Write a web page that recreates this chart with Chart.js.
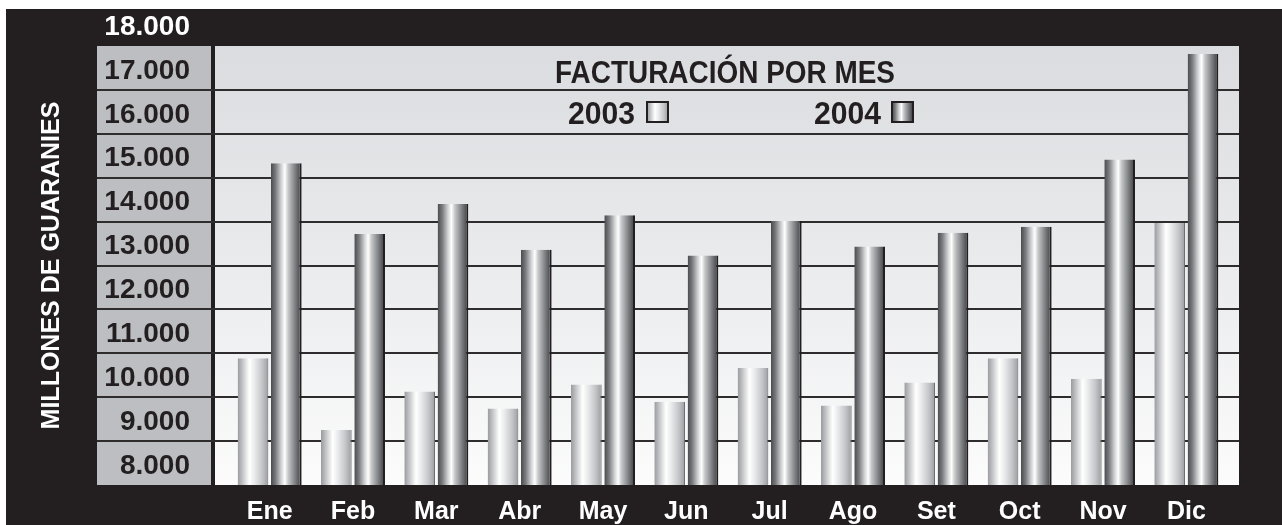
<!DOCTYPE html>
<html>
<head>
<meta charset="utf-8">
<script src="https://cdn.jsdelivr.net/npm/chart.js@4.4.1/dist/chart.umd.min.js"></script>
<style>
html,body{margin:0;padding:0;background:#ffffff;overflow:hidden}
#wrap{width:1282px;height:525px;position:relative}
</style>
</head>
<body>
<div id="wrap"><canvas id="c" width="1282" height="525"></canvas></div>
<script>
// ---------- data ----------
const months = ['Ene','Feb','Mar','Abr','May','Jun','Jul','Ago','Set','Oct','Nov','Dic'];
const sales2003 = [10890, 9255, 10130, 9745, 10290, 9895, 10665, 9810, 10335, 10890, 10420, 13970];
const sales2004 = [15330, 13720, 14400, 13360, 14145, 13225, 14015, 13430, 13745, 13880, 15415, 17820];
const yTickValues = [8000, 9000, 10000, 11000, 12000, 13000, 14000, 15000, 16000, 17000, 18000];
const seriesLabels = ['2003', '2004'];
const chartTitle = 'FACTURACIÓN POR MES';
const yAxisTitle = 'MILLONES DE GUARANIES';

// ---------- styling ----------
const DARK = '#231f20';
const stops2003 = [[0,'#9a9b9e'],[0.12,'#b9babd'],[0.38,'#ffffff'],[0.55,'#e9eaec'],[0.8,'#c4c5c8'],[0.95,'#a6a7aa'],[1,'#808184']];
const stops2004 = [[0,'#4a4b4e'],[0.15,'#7a7b7e'],[0.33,'#cfd0d2'],[0.45,'#ffffff'],[0.56,'#c6c7c9'],[0.75,'#8a8b8e'],[0.9,'#5a5b5e'],[1,'#3c3d40']];

function hasFont(name){
  const c = document.createElement('canvas').getContext('2d');
  const t = 'ABCDEFGHIJKLMmmwwii1234';
  c.font = '40px monospace'; const a = c.measureText(t).width;
  c.font = '40px "' + name + '", monospace'; const b = c.measureText(t).width;
  return Math.abs(a - b) > 0.5;
}
const NARROW = hasFont('Liberation Sans Narrow');
const SANS = '"Liberation Sans", Arial, Helvetica, sans-serif';
const NARROW_FAMILY = NARROW ? '"Liberation Sans Narrow", ' + SANS : SANS;
const xFontSize = NARROW ? 27 : 25;
const yTitleSize = NARROW ? 30 : 25;

function fmt(v){ return Math.floor(v/1000) + '.' + String(v % 1000).padStart(3,'0'); }

function gradientFor(ctx, x0, x1, stops){
  const g = ctx.createLinearGradient(x0, 0, x1, 0);
  stops.forEach(([o,c]) => g.addColorStop(o,c));
  return g;
}

function drawFitted(ctx, text, x, y, font, target, align){
  ctx.save();
  ctx.font = font;
  const w = ctx.measureText(text).width;
  const sx = Math.min(1, target / w);
  ctx.translate(x, y);
  ctx.scale(sx, 1);
  ctx.textAlign = align;
  ctx.textBaseline = 'alphabetic';
  ctx.fillStyle = DARK;
  ctx.fillText(text, 0, 0);
  ctx.restore();
}

// ---------- plugins ----------
const framePlugin = {
  id: 'frame',
  beforeDraw(chart){
    const {ctx, chartArea: a, scales: {y}} = chart;
    ctx.save();
    ctx.fillStyle = '#ffffff';
    ctx.fillRect(0, 0, chart.width, chart.height);
    ctx.fillStyle = DARK;
    ctx.fillRect(6, 9, chart.width - 6, chart.height - 9);
    const top = a.top, bottom = a.bottom;
    // grey label column
    ctx.fillStyle = '#bdbec1';
    ctx.fillRect(97, top, 114, bottom - top);
    // plot background
    const pl = a.left - 13, pr = a.right + 11;
    const g = ctx.createLinearGradient(0, top, 0, bottom);
    g.addColorStop(0, '#dbdcdf');
    g.addColorStop(0.5, '#eaebed');
    g.addColorStop(1, '#fcfcfc');
    ctx.fillStyle = g;
    ctx.fillRect(pl, top, pr - pl, bottom - top);
    // grid lines
    ctx.strokeStyle = '#2f2c2d';
    ctx.lineWidth = 2;
    y.ticks.forEach(t => {
      if (t.value <= y.min || t.value >= y.max) return;
      const py = Math.round(y.getPixelForValue(t.value));
      ctx.beginPath();
      ctx.moveTo(97, py);
      ctx.lineTo(pr, py);
      ctx.stroke();
    });
    ctx.restore();
  }
};

const barShadePlugin = {
  id: 'barShade',
  beforeDatasetsDraw(chart){
    const ctx = chart.ctx;
    chart.data.datasets.forEach((ds, di) => {
      const meta = chart.getDatasetMeta(di);
      const stops = di === 0 ? stops2003 : stops2004;
      meta.data.forEach(el => {
        const {x, width} = el.getProps(['x','width'], true);
        el.options.backgroundColor = gradientFor(ctx, x - width/2, x + width/2, stops);
      });
    });
  }
};

const headerPlugin = {
  id: 'header',
  afterDatasetsDraw(chart){
    const {ctx, chartArea: a} = chart;
    const cx = (a.left + a.right) / 2 - 3;
    drawFitted(ctx, chartTitle, cx, 83, 'bold 32px ' + SANS, 340, 'center');
    const items = [
      {label: seriesLabels[0], right: 635, box: 647, stops: stops2003},
      {label: seriesLabels[1], right: 881, box: 892, stops: stops2004}
    ];
    items.forEach(it => {
      drawFitted(ctx, it.label, it.right, 124, 'bold 32px ' + SANS, 67, 'right');
      ctx.save();
      ctx.fillStyle = gradientFor(ctx, it.box, it.box + 21, it.stops);
      ctx.fillRect(it.box, 102, 21, 20);
      ctx.strokeStyle = DARK;
      ctx.lineWidth = 2;
      ctx.strokeRect(it.box, 102, 21, 20);
      ctx.restore();
    });
  }
};

function zeroPad(s){ s.paddingTop = 0; s.paddingBottom = 0; s.paddingLeft = 0; s.paddingRight = 0; }

// ---------- chart ----------
new Chart(document.getElementById('c'), {
  type: 'bar',
  data: {
    labels: months,
    datasets: [
      {
        label: seriesLabels[0],
        data: sales2003,
        backgroundColor: () => '#d0d0d0',
        borderColor: '#6d6e71',
        borderWidth: {top: 0, right: 1, bottom: 0, left: 0},
        borderSkipped: false,
        categoryPercentage: 0.8,
        barPercentage: 0.92
      },
      {
        label: seriesLabels[1],
        data: sales2004,
        backgroundColor: () => '#909090',
        borderColor: DARK,
        borderWidth: {top: 0, right: 2, bottom: 0, left: 0},
        borderSkipped: false,
        categoryPercentage: 0.8,
        barPercentage: 0.92
      }
    ]
  },
  options: {
    responsive: false,
    animation: false,
    devicePixelRatio: 1,
    layout: {padding: {left: 0, right: 54, top: 46, bottom: 0}},
    plugins: {
      legend: {display: false},
      title: {display: false},
      tooltip: {enabled: false}
    },
    scales: {
      x: {
        type: 'category',
        grid: {display: false},
        border: {display: false},
        ticks: {
          color: '#ffffff',
          font: {family: NARROW_FAMILY, weight: 'bold', size: xFontSize},
          padding: 4,
          maxRotation: 0,
          autoSkip: false
        },
        afterFit(s){ s.height = 40; zeroPad(s); }
      },
      y: {
        type: 'linear',
        min: yTickValues[0],
        max: yTickValues[yTickValues.length - 1],
        grid: {display: false},
        border: {display: false},
        afterBuildTicks(s){ s.ticks = yTickValues.map(v => ({value: v})); },
        ticks: {
          callback: v => fmt(v),
          color: c => (c.tick && c.tick.value === yTickValues[yTickValues.length - 1]) ? '#ffffff' : DARK,
          font: {family: SANS, weight: 'bold', size: 28},
          padding: 30,
          labelOffset: -19,
          autoSkip: false
        },
        title: {
          display: true,
          text: yAxisTitle,
          color: '#ffffff',
          font: {family: NARROW_FAMILY, weight: 'bold', size: yTitleSize},
          padding: {top: 52 - yTitleSize * 0.6, bottom: 0}
        },
        afterFit(s){ s.width = 228; zeroPad(s); }
      }
    }
  },
  plugins: [framePlugin, barShadePlugin, headerPlugin]
});
</script>
</body>
</html>
